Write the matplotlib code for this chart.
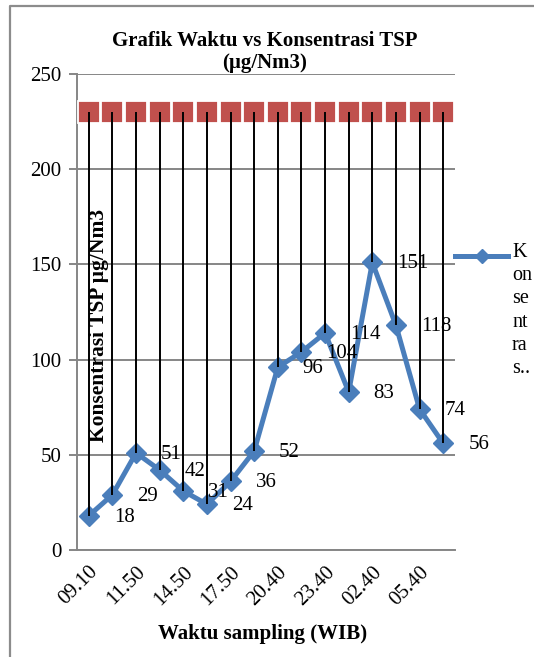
import matplotlib
matplotlib.use("Agg")
import matplotlib.pyplot as plt
from matplotlib.lines import Line2D
import numpy as np

plt.rcParams['font.family'] = ['Liberation Serif', 'DejaVu Serif']

# TSP concentration per sampling time (ug/Nm3)
konsentrasi = [18, 29, 51, 42, 31, 24, 36, 52, 96, 104, 114, 83, 151, 118, 74, 56]
baku_mutu = [230] * len(konsentrasi)
tick_labels = ['09.10', '11.50', '14.50', '17.50', '20.40', '23.40', '02.40', '05.40']

blue = '#4A7EBB'
red = '#C0504D'
grid_c = '#868686'

fig = plt.figure(figsize=(5.34, 6.57), dpi=100)
ax = fig.add_axes([77 / 534, 1 - 550 / 657, (455 - 77) / 534, (550 - 74) / 657])

x = np.arange(len(konsentrasi))

# threshold series
ax.plot(x, baku_mutu, linestyle='none', marker='s', markersize=15.8,
        markerfacecolor=red, markeredgecolor='white', markeredgewidth=1.3,
        zorder=3)
# high-low lines between the two series
ax.vlines(x, konsentrasi, baku_mutu, color='black', linewidth=1.4, zorder=5)
# measured concentration
ax.plot(x, konsentrasi, color=blue, linewidth=3.6, marker='D', markersize=10,
        zorder=4, clip_on=False)

for xi, v in zip(x, konsentrasi):
    ax.annotate(str(v), (xi, v), xytext=(18, -1), textcoords='offset points',
                ha='left', va='center', fontsize=15, zorder=6)

ax.set_xlim(-0.5, len(konsentrasi) - 0.5)
ax.set_ylim(0, 250)
ax.set_yticks(range(0, 251, 50))
ax.yaxis.grid(True, color=grid_c, linewidth=1.4)
ax.set_axisbelow(True)
ax.set_xticks(x[::2])
ax.set_xticklabels(tick_labels, rotation=45, ha='right', va='top',
                   rotation_mode='anchor', fontsize=15)
ax.tick_params(axis='x', length=0, pad=9)
ax.tick_params(axis='y', length=6, color=grid_c, width=1.4, labelsize=15, pad=5)
for s in ['top', 'right']:
    ax.spines[s].set_visible(False)
ax.spines['left'].set_color(grid_c)
ax.spines['bottom'].set_color(grid_c)
ax.spines['left'].set_linewidth(1.4)
ax.spines['bottom'].set_linewidth(1.4)

fig.text(265 / 534, 1 - 52 / 657, 'Grafik Waktu vs Konsentrasi TSP\n(µg/Nm3)',
         ha='center', va='center', fontsize=15, fontweight='bold',
         linespacing=1.15)
fig.text(99 / 534, 1 - 326 / 657, 'Konsentrasi TSP µg/Nm3', rotation=90,
         ha='center', va='center', fontsize=15.5, fontweight='bold', zorder=10)
fig.text(263 / 534, 1 - 634 / 657, 'Waktu sampling (WIB)',
         ha='center', va='center', fontsize=15, fontweight='bold')

# legend entry
fig.add_artist(Line2D([455 / 534, 508 / 534], [1 - 256 / 657] * 2, color=blue,
                      linewidth=3.6, transform=fig.transFigure))
fig.add_artist(Line2D([482 / 534], [1 - 256 / 657], color=blue, marker='D',
                      markersize=7, transform=fig.transFigure))
fig.text(512 / 534, 1 - 243 / 657, 'K\non\nse\nnt\nra\ns..', ha='left', va='top',
         fontsize=14.5, linespacing=1.3)

# chart border
fig.add_artist(Line2D([10 / 534, 10 / 534, 1.0], [0.0, 1 - 6 / 657, 1 - 6 / 657],
                      color='#8c8c8c', linewidth=1.6, transform=fig.transFigure))

fig.savefig('out.png', dpi=100)
